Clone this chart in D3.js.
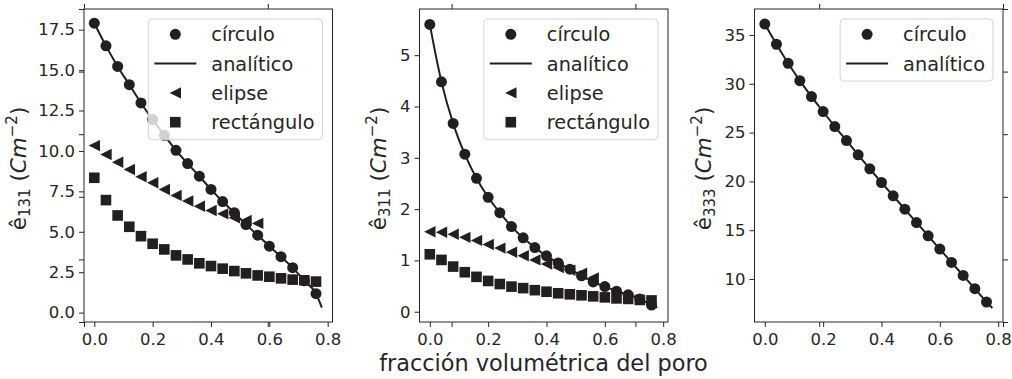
<!DOCTYPE html>
<html>
<head>
<meta charset="utf-8">
<script src="https://cdn.jsdelivr.net/npm/d3@7"></script>
<style>
  html, body { margin: 0; padding: 0; background: #ffffff; }
  svg { display: block; font-family: "DejaVu Sans", sans-serif; }
</style>
</head>
<body>
<svg id="chart" width="1012" height="379"></svg>
<script>
// Porosity (volume fraction) sampled for the numerical results
const porosity = [0, 0.04, 0.08, 0.12, 0.16, 0.20, 0.24, 0.28, 0.32, 0.36,
                  0.40, 0.44, 0.48, 0.52, 0.56, 0.60, 0.64, 0.68, 0.72, 0.76];
const porosityElipse = [0, 0.04, 0.08, 0.12, 0.16, 0.20, 0.24, 0.28, 0.32, 0.36,
                        0.40, 0.44, 0.48, 0.52, 0.56];
const porosityAnalytic = [0, 0.04, 0.08, 0.12, 0.16, 0.20, 0.24, 0.28, 0.32, 0.36,
                          0.40, 0.44, 0.48, 0.52, 0.56, 0.60, 0.64, 0.68, 0.72, 0.76, 0.78];

// e131
const e131Circulo = [17.9, 16.5, 15.23, 14.1, 12.97, 11.94, 10.97, 10.04, 9.22, 8.44,
                     7.62, 6.87, 6.18, 5.45, 4.79, 4.11, 3.46, 2.78, 1.97, 1.17];
const e131Analitico = [17.9, 16.5, 15.23, 14.1, 12.97, 11.94, 10.97, 10.04, 9.22, 8.44,
                       7.62, 6.87, 6.18, 5.45, 4.79, 4.11, 3.46, 2.78, 1.97, 1.17, 0.31];
const e131Elipse = [10.33, 9.78, 9.3, 8.85, 8.4, 8.03, 7.62, 7.25, 6.9, 6.58,
                    6.32, 6.11, 5.87, 5.70, 5.52];
const e131Rectangulo = [8.34, 6.96, 6.01, 5.31, 4.73, 4.26, 3.91, 3.54, 3.29, 3.05,
                        2.88, 2.72, 2.57, 2.43, 2.30, 2.22, 2.12, 2.04, 2.0, 1.92];

// e311
const e311Circulo = [5.6, 4.48, 3.67, 3.07, 2.6, 2.23, 1.93, 1.66, 1.44, 1.25,
                     1.09, 0.95, 0.83, 0.70, 0.58, 0.49, 0.40, 0.33, 0.25, 0.13];
const e311Analitico = [5.6, 4.48, 3.67, 3.07, 2.6, 2.23, 1.93, 1.66, 1.44, 1.25,
                       1.09, 0.95, 0.83, 0.70, 0.58, 0.49, 0.40, 0.33, 0.25, 0.13, 0.08];
const e311Elipse = [1.56, 1.55, 1.51, 1.45, 1.39, 1.31, 1.24, 1.16, 1.09, 1.01,
                    0.93, 0.86, 0.81, 0.75, 0.66];
const e311Rectangulo = [1.12, 1.01, 0.88, 0.77, 0.68, 0.60, 0.54, 0.49, 0.46, 0.42,
                        0.39, 0.36, 0.34, 0.32, 0.30, 0.28, 0.26, 0.25, 0.23, 0.22];

// e333
const e333Circulo = [36.12, 34.05, 32.1, 30.32, 28.69, 27.15, 25.62, 24.18, 22.72, 21.29,
                     19.89, 18.52, 17.16, 15.79, 14.43, 13.07, 11.7, 10.37, 9.01, 7.65];
const e333Analitico = [36.12, 34.05, 32.1, 30.32, 28.69, 27.15, 25.62, 24.18, 22.72, 21.29,
                       19.89, 18.52, 17.16, 15.79, 14.43, 13.07, 11.7, 10.37, 9.01, 7.65, 7.03];

// Tick values
const xTicks = [0.0, 0.2, 0.4, 0.6, 0.8];
const yTicks131 = [0.0, 2.5, 5.0, 7.5, 10.0, 12.5, 15.0, 17.5];
const yTicks311 = [0, 1, 2, 3, 4, 5];
const yTicks333 = [10, 15, 20, 25, 30, 35];
const frameTicks = [0, 0.2, 0.4, 0.6, 0.8, 1.0];

const seriesNames = ["círculo", "analítico", "elipse", "rectángulo"];
const xLabel = "fracción volumétrica del poro";

const INK = "#231f20";
const TXT = "#262626";

const svg = d3.select("#chart");

const plotTop = 9, plotBottom = 322, panelW = 248.5;
const panelLefts = [84, 419.5, 754.5];

const panels = [
  { sub: "131", yDomain: [-0.58, 18.78], yTicks: yTicks131, fmt: d3.format(".1f"), labelOffset: 58,
    circ: e131Circulo, anal: e131Analitico, eli: e131Elipse, rect: e131Rectangulo },
  { sub: "311", yDomain: [-0.2, 5.9], yTicks: yTicks311, fmt: d3.format("d"), labelOffset: 34,
    circ: e311Circulo, anal: e311Analitico, eli: e311Elipse, rect: e311Rectangulo },
  { sub: "333", yDomain: [5.6, 37.66], yTicks: yTicks333, fmt: d3.format("d"), labelOffset: 44,
    circ: e333Circulo, anal: e333Analitico, eli: null, rect: null }
];

// Background frame axis spanning all three panels (ticks only, no labels)
(function drawFrame() {
  const left = panelLefts[0], right = panelLefts[2] + panelW;
  const fx = d3.scaleLinear().domain([0, 1]).range([left, right]);
  const fy = d3.scaleLinear().domain([0, 1]).range([plotBottom, plotTop]);
  const g = svg.append("g").attr("class", "frame-axis");
  const style = sel => {
    sel.select(".domain").remove();
    sel.selectAll("line").attr("stroke", TXT).attr("stroke-width", 1);
    sel.selectAll("text").remove();
  };
  g.append("g").attr("transform", `translate(0,${plotBottom})`)
    .call(d3.axisBottom(fx).tickValues(frameTicks).tickSize(5).tickFormat("")).call(style);
  g.append("g").attr("transform", `translate(0,${plotTop})`)
    .call(d3.axisTop(fx).tickValues(frameTicks).tickSize(5).tickFormat("")).call(style);
  g.append("g").attr("transform", `translate(${left},0)`)
    .call(d3.axisLeft(fy).tickValues(frameTicks).tickSize(5).tickFormat("")).call(style);
  g.append("g").attr("transform", `translate(${right},0)`)
    .call(d3.axisRight(fy).tickValues(frameTicks).tickSize(5).tickFormat("")).call(style);
})();

const triLeft = s => `M${-s},0L${s},${-s}L${s},${s}Z`;
const TRI = 5.7, SQ = 10.6, RAD = 5.5;

panels.forEach((p, i) => {
  const x0 = panelLefts[i];
  const x = d3.scaleLinear().domain([-0.0353, 0.8165]).range([x0, x0 + panelW]);
  const y = d3.scaleLinear().domain(p.yDomain).range([plotBottom, plotTop]);
  const g = svg.append("g").attr("class", "panel");

  // clip for data
  const clipId = "clip" + i;
  svg.append("clipPath").attr("id", clipId).append("rect")
    .attr("x", x0).attr("y", plotTop).attr("width", panelW).attr("height", plotBottom - plotTop);

  // axes
  const ax = g.append("g").attr("transform", `translate(0,${plotBottom})`)
    .call(d3.axisBottom(x).tickValues(xTicks).tickSize(5).tickPadding(6).tickFormat(d3.format(".1f")));
  const ay = g.append("g").attr("transform", `translate(${x0},0)`)
    .call(d3.axisLeft(y).tickValues(p.yTicks).tickSize(5).tickPadding(4).tickFormat(p.fmt));
  [ax, ay].forEach(a => {
    a.select(".domain").remove();
    a.selectAll("line").attr("stroke", TXT).attr("stroke-width", 1);
    a.selectAll("text").attr("fill", TXT).attr("font-size", 16.5)
      .attr("font-family", "DejaVu Sans, sans-serif");
  });

  const data = g.append("g").attr("clip-path", `url(#${clipId})`);

  // círculo
  data.selectAll("circle.circ").data(p.circ).join("circle").attr("class", "circ")
    .attr("cx", (d, k) => x(porosity[k])).attr("cy", d => y(d)).attr("r", RAD)
    .attr("fill", INK);

  // analítico
  const line = d3.line().x((d, k) => x(porosityAnalytic[k])).y(d => y(d)).curve(d3.curveMonotoneX);
  data.append("path").datum(p.anal).attr("d", line)
    .attr("fill", "none").attr("stroke", INK).attr("stroke-width", 2);

  // elipse
  if (p.eli) {
    data.selectAll("path.eli").data(p.eli).join("path").attr("class", "eli")
      .attr("transform", (d, k) => `translate(${x(porosityElipse[k])},${y(d)})`)
      .attr("d", triLeft(TRI)).attr("fill", INK);
  }
  // rectángulo
  if (p.rect) {
    data.selectAll("rect.rect").data(p.rect).join("rect").attr("class", "rect")
      .attr("x", (d, k) => x(porosity[k]) - SQ / 2).attr("y", d => y(d) - SQ / 2)
      .attr("width", SQ).attr("height", SQ).attr("fill", INK);
  }

  // panel frame
  g.append("rect").attr("x", x0).attr("y", plotTop).attr("width", panelW).attr("height", plotBottom - plotTop)
    .attr("fill", "none").attr("stroke", TXT).attr("stroke-width", 1);

  // y label: ê_sub (Cm^-2)
  const lx = x0 - p.labelOffset, ly = (plotTop + plotBottom) / 2 + 3;
  const t = g.append("text")
    .attr("transform", `translate(${lx},${ly}) rotate(-90)`)
    .attr("text-anchor", "middle").attr("fill", TXT).attr("font-size", 21.5);
  t.append("tspan").text("ê");
  t.append("tspan").attr("font-size", 15).attr("dy", 4).text(p.sub);
  t.append("tspan").attr("dy", -4).text(" (");
  t.append("tspan").attr("font-style", "italic").text("Cm");
  t.append("tspan").attr("font-size", 15).attr("dy", -9).text("−2");
  t.append("tspan").attr("dy", 9).text(")");

  // legend
  const names = p.eli ? seriesNames : seriesNames.slice(0, 2);
  const lg = g.append("g");
  const box = lg.append("rect");
  const rowH = 29.3;
  const texts = [];
  names.forEach((name, k) => {
    const cy = 34.3 + k * rowH;
    const tx = lg.append("text").attr("y", cy + 7).attr("font-size", 19.3)
      .attr("fill", TXT).text(name);
    texts.push(tx);
  });
  const wText = d3.max(texts, tx => tx.node().getComputedTextLength());
  const boxW = 63 + wText + 8;
  const L = x0 + panelW - 10 - boxW;
  box.attr("x", L).attr("y", 19).attr("width", boxW).attr("height", names.length * rowH + 3.5)
    .attr("rx", 4).attr("fill", "rgba(255,255,255,0.8)").attr("stroke", "#d4d4d4").attr("stroke-width", 1);
  texts.forEach(tx => tx.attr("x", L + 63));
  names.forEach((name, k) => {
    const cy = 34.3 + k * rowH, mx = L + 27;
    if (k === 0) lg.append("circle").attr("cx", mx).attr("cy", cy).attr("r", RAD).attr("fill", INK);
    if (k === 1) lg.append("line").attr("x1", L + 6).attr("x2", L + 48).attr("y1", cy).attr("y2", cy)
      .attr("stroke", INK).attr("stroke-width", 2);
    if (k === 2) lg.append("path").attr("transform", `translate(${mx},${cy})`).attr("d", triLeft(TRI)).attr("fill", INK);
    if (k === 3) lg.append("rect").attr("x", mx - SQ / 2).attr("y", cy - SQ / 2).attr("width", SQ).attr("height", SQ).attr("fill", INK);
  });
});

// shared x label
svg.append("text")
  .attr("x", (panelLefts[0] + panelLefts[2] + panelW) / 2).attr("y", 371)
  .attr("text-anchor", "middle").attr("font-size", 22.4).attr("fill", TXT)
  .text(xLabel);
</script>
</body>
</html>
